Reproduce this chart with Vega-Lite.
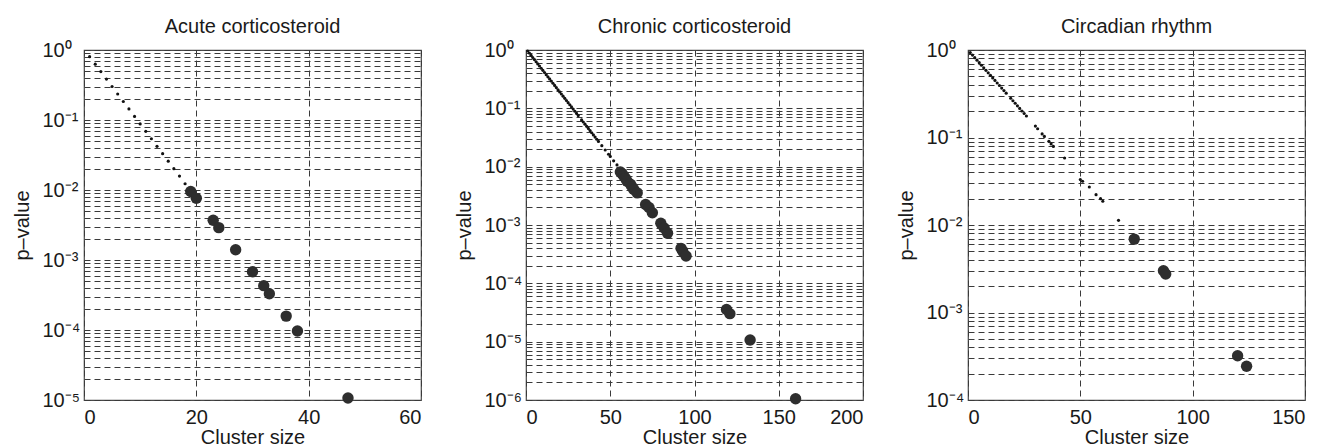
{
  "$schema": "https://vega.github.io/schema/vega-lite/v6.json",
  "background": "white",
  "padding": {"left": 11, "top": 16, "right": 5, "bottom": 0},
  "datasets": {
    "acute": [
      {"size": 1, "p": 0.804}, {"size": 2, "p": 0.628}, {"size": 3, "p": 0.491}, {"size": 4, "p": 0.3845},
      {"size": 5, "p": 0.3008}, {"size": 6, "p": 0.2352}, {"size": 7, "p": 0.184}, {"size": 8, "p": 0.1439},
      {"size": 9, "p": 0.1126}, {"size": 10, "p": 0.088}, {"size": 11, "p": 0.0689}, {"size": 12, "p": 0.0539},
      {"size": 13, "p": 0.0421}, {"size": 14, "p": 0.033}, {"size": 15, "p": 0.0258}, {"size": 16, "p": 0.0202},
      {"size": 17, "p": 0.0158}, {"size": 18, "p": 0.0123}, {"size": 19, "p": 0.0095}, {"size": 20, "p": 0.0076},
      {"size": 23, "p": 0.0037}, {"size": 24, "p": 0.0029}, {"size": 27, "p": 0.0014}, {"size": 30, "p": 0.00068},
      {"size": 32, "p": 0.00043}, {"size": 33, "p": 0.00033}, {"size": 36, "p": 0.000158}, {"size": 38, "p": 0.000097},
      {"size": 47, "p": 0.0000107}
    ],
    "chronic": [
      {"size": 1, "p": 0.962}, {"size": 2, "p": 0.884}, {"size": 3, "p": 0.811}, {"size": 4, "p": 0.745},
      {"size": 5, "p": 0.685}, {"size": 6, "p": 0.629}, {"size": 7, "p": 0.578}, {"size": 8, "p": 0.531},
      {"size": 9, "p": 0.487}, {"size": 10, "p": 0.448}, {"size": 11, "p": 0.411}, {"size": 12, "p": 0.378},
      {"size": 13, "p": 0.347}, {"size": 14, "p": 0.319}, {"size": 15, "p": 0.293}, {"size": 16, "p": 0.269},
      {"size": 17, "p": 0.247}, {"size": 18, "p": 0.227}, {"size": 19, "p": 0.2084}, {"size": 20, "p": 0.1914},
      {"size": 21, "p": 0.1758}, {"size": 22, "p": 0.1615}, {"size": 23, "p": 0.1484}, {"size": 24, "p": 0.1363},
      {"size": 25, "p": 0.1252}, {"size": 26, "p": 0.115}, {"size": 27, "p": 0.1056}, {"size": 28, "p": 0.097},
      {"size": 29, "p": 0.0891}, {"size": 30, "p": 0.0818}, {"size": 31, "p": 0.0752}, {"size": 33, "p": 0.0634},
      {"size": 34, "p": 0.0583}, {"size": 35, "p": 0.0535}, {"size": 36, "p": 0.0492}, {"size": 37, "p": 0.0452},
      {"size": 38, "p": 0.0415}, {"size": 39, "p": 0.0381}, {"size": 40, "p": 0.035}, {"size": 41, "p": 0.0321},
      {"size": 42, "p": 0.0295}, {"size": 43, "p": 0.0271}, {"size": 45, "p": 0.0229}, {"size": 47, "p": 0.0193},
      {"size": 49, "p": 0.0163}, {"size": 50, "p": 0.015}, {"size": 52, "p": 0.0126}, {"size": 54, "p": 0.0107},
      {"size": 56, "p": 0.00813}, {"size": 57, "p": 0.00759}, {"size": 58, "p": 0.00692}, {"size": 59, "p": 0.00631},
      {"size": 60, "p": 0.00562}, {"size": 62, "p": 0.00501}, {"size": 63, "p": 0.00447}, {"size": 64, "p": 0.00407},
      {"size": 66, "p": 0.00355}, {"size": 71, "p": 0.00224}, {"size": 73, "p": 0.002}, {"size": 75, "p": 0.00162},
      {"size": 80, "p": 0.00107}, {"size": 82, "p": 0.00089}, {"size": 84, "p": 0.00072}, {"size": 92, "p": 0.000398},
      {"size": 93, "p": 0.000355}, {"size": 95, "p": 0.000295}, {"size": 119, "p": 0.0000355}, {"size": 121, "p": 0.0000302},
      {"size": 133, "p": 0.0000107}, {"size": 160, "p": 0.00000105}
    ],
    "circadian": [
      {"size": 1, "p": 0.935}, {"size": 2, "p": 0.875}, {"size": 3, "p": 0.818}, {"size": 4, "p": 0.766},
      {"size": 5, "p": 0.716}, {"size": 6, "p": 0.67}, {"size": 7, "p": 0.627}, {"size": 8, "p": 0.586},
      {"size": 9, "p": 0.548}, {"size": 10, "p": 0.513}, {"size": 11, "p": 0.48}, {"size": 12, "p": 0.449},
      {"size": 13, "p": 0.42}, {"size": 14, "p": 0.393}, {"size": 15, "p": 0.367}, {"size": 16, "p": 0.344},
      {"size": 17, "p": 0.321}, {"size": 19, "p": 0.281}, {"size": 20, "p": 0.263}, {"size": 21, "p": 0.246},
      {"size": 22, "p": 0.23}, {"size": 23, "p": 0.215}, {"size": 24, "p": 0.201}, {"size": 25, "p": 0.188},
      {"size": 26, "p": 0.176}, {"size": 30, "p": 0.135}, {"size": 31, "p": 0.126}, {"size": 33, "p": 0.11},
      {"size": 34, "p": 0.103}, {"size": 36, "p": 0.0904}, {"size": 37, "p": 0.0845}, {"size": 38, "p": 0.0791},
      {"size": 43, "p": 0.0583}, {"size": 50, "p": 0.0331}, {"size": 51, "p": 0.0316}, {"size": 54, "p": 0.0272},
      {"size": 57, "p": 0.0222}, {"size": 59, "p": 0.02}, {"size": 60, "p": 0.0187}, {"size": 67, "p": 0.0113},
      {"size": 74, "p": 0.0069}, {"size": 87, "p": 0.003}, {"size": 88, "p": 0.00275}, {"size": 120, "p": 0.00032},
      {"size": 124, "p": 0.000243}
    ]
  },
  "config": {
    "font": "Liberation Sans",
    "view": {"stroke": "#4a4a4a", "strokeWidth": 1.2},
    "axis": {
      "domain": false, "ticks": false, "grid": true,
      "labelFont": "Liberation Sans", "labelFontSize": 20, "labelColor": "#1a1a1a",
      "titleFont": "Liberation Sans", "titleFontSize": 20, "titleFontWeight": "normal", "titleColor": "#1a1a1a",
      "gridColor": "#3a3a3a", "gridDash": [6, 4], "gridWidth": 1, "gridOpacity": 1
    },
    "title": {"font": "Liberation Sans", "fontSize": 20, "fontWeight": "normal", "color": "#1a1a1a", "offset": 3}
  },
  "bounds": "flush",
  "spacing": 105,
  "hconcat": [
    {
      "width": 337, "height": 350,
      "title": "Acute corticosteroid",
      "data": {"name": "acute"},
      "mark": {"type": "point", "shape": "circle", "filled": true, "opacity": 1},
      "encoding": {
        "x": {"field": "size", "type": "quantitative",
          "scale": {"domain": [0, 60], "nice": false, "zero": false},
          "axis": {"title": "Cluster size", "values": [0, 20, 40, 60], "labelPadding": 7, "titlePadding": 0}},
        "y": {"field": "p", "type": "quantitative",
          "scale": {"type": "log", "domain": [0.00001, 1], "nice": false},
          "axis": {"title": "p–value", "labelAlign": "left", "labelBaseline": "middle", "labelPadding": 42, "titlePadding": 10,
            "values": [0.00001,0.00002,0.00003,0.00004,0.00005,0.00006,0.00007,0.00008,0.00009,0.0001,0.0002,0.0003,0.0004,0.0005,0.0006,0.0007,0.0008,0.0009,0.001,0.002,0.003,0.004,0.005,0.006,0.007,0.008,0.009,0.01,0.02,0.03,0.04,0.05,0.06,0.07,0.08,0.09,0.1,0.2,0.3,0.4,0.5,0.6,0.7,0.8,0.9,1],
            "labelExpr": "datum.value == 1 ? '10⁰' : datum.value == 0.1 ? '10⁻¹' : datum.value == 0.01 ? '10⁻²' : datum.value == 0.001 ? '10⁻³' : datum.value == 0.0001 ? '10⁻⁴' : datum.value == 0.00001 ? '10⁻⁵' : datum.value == 0.000001 ? '10⁻⁶' : ''"}},
        "size": {"condition": {"test": "datum.p < 0.01", "value": 130}, "value": 10},
        "color": {"condition": {"test": "datum.p < 0.01", "value": "#2e2e2e"}, "value": "#111111"}
      }
    },
    {
      "width": 337, "height": 350,
      "title": "Chronic corticosteroid",
      "data": {"name": "chronic"},
      "mark": {"type": "point", "shape": "circle", "filled": true, "opacity": 1},
      "encoding": {
        "x": {"field": "size", "type": "quantitative",
          "scale": {"domain": [0, 200], "nice": false, "zero": false},
          "axis": {"title": "Cluster size", "values": [0, 50, 100, 150, 200], "labelPadding": 7, "titlePadding": 0}},
        "y": {"field": "p", "type": "quantitative",
          "scale": {"type": "log", "domain": [0.000001, 1], "nice": false},
          "axis": {"title": "p–value", "labelAlign": "left", "labelBaseline": "middle", "labelPadding": 42, "titlePadding": 10,
            "values": [0.000001,0.000002,0.000003,0.000004,0.000005,0.000006,0.000007,0.000008,0.000009,0.00001,0.00002,0.00003,0.00004,0.00005,0.00006,0.00007,0.00008,0.00009,0.0001,0.0002,0.0003,0.0004,0.0005,0.0006,0.0007,0.0008,0.0009,0.001,0.002,0.003,0.004,0.005,0.006,0.007,0.008,0.009,0.01,0.02,0.03,0.04,0.05,0.06,0.07,0.08,0.09,0.1,0.2,0.3,0.4,0.5,0.6,0.7,0.8,0.9,1],
            "labelExpr": "datum.value == 1 ? '10⁰' : datum.value == 0.1 ? '10⁻¹' : datum.value == 0.01 ? '10⁻²' : datum.value == 0.001 ? '10⁻³' : datum.value == 0.0001 ? '10⁻⁴' : datum.value == 0.00001 ? '10⁻⁵' : datum.value == 0.000001 ? '10⁻⁶' : ''"}},
        "size": {"condition": {"test": "datum.p < 0.01", "value": 130}, "value": 10},
        "color": {"condition": {"test": "datum.p < 0.01", "value": "#2e2e2e"}, "value": "#111111"}
      }
    },
    {
      "width": 337, "height": 350,
      "title": "Circadian rhythm",
      "data": {"name": "circadian"},
      "mark": {"type": "point", "shape": "circle", "filled": true, "opacity": 1},
      "encoding": {
        "x": {"field": "size", "type": "quantitative",
          "scale": {"domain": [0, 150], "nice": false, "zero": false},
          "axis": {"title": "Cluster size", "values": [0, 50, 100, 150], "labelPadding": 7, "titlePadding": 0}},
        "y": {"field": "p", "type": "quantitative",
          "scale": {"type": "log", "domain": [0.0001, 1], "nice": false},
          "axis": {"title": "p–value", "labelAlign": "left", "labelBaseline": "middle", "labelPadding": 42, "titlePadding": 10,
            "values": [0.0001,0.0002,0.0003,0.0004,0.0005,0.0006,0.0007,0.0008,0.0009,0.001,0.002,0.003,0.004,0.005,0.006,0.007,0.008,0.009,0.01,0.02,0.03,0.04,0.05,0.06,0.07,0.08,0.09,0.1,0.2,0.3,0.4,0.5,0.6,0.7,0.8,0.9,1],
            "labelExpr": "datum.value == 1 ? '10⁰' : datum.value == 0.1 ? '10⁻¹' : datum.value == 0.01 ? '10⁻²' : datum.value == 0.001 ? '10⁻³' : datum.value == 0.0001 ? '10⁻⁴' : datum.value == 0.00001 ? '10⁻⁵' : datum.value == 0.000001 ? '10⁻⁶' : ''"}},
        "size": {"condition": {"test": "datum.p < 0.01", "value": 130}, "value": 10},
        "color": {"condition": {"test": "datum.p < 0.01", "value": "#2e2e2e"}, "value": "#111111"}
      }
    }
  ]
}
